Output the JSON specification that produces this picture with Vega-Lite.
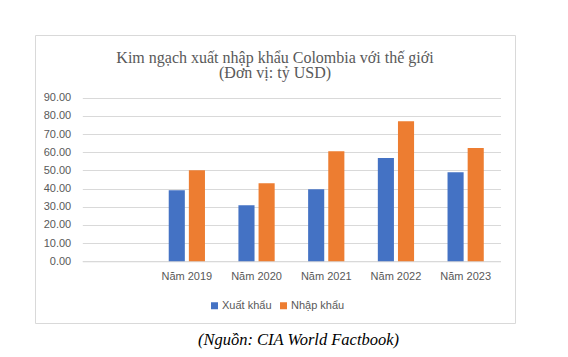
{
  "$schema": "https://vega.github.io/schema/vega-lite/v6.json",
  "width": 480,
  "height": 288,
  "autosize": {"type": "none"},
  "padding": {"left": 35, "top": 35, "right": 53, "bottom": 34},
  "background": "white",
  "config": {
    "view": {"stroke": "#d9d9d9", "strokeWidth": 1},
    "axis": {"labelFont": "Liberation Sans", "labelFontSize": 11, "labelColor": "#595959"},
    "legend": {"labelFont": "Liberation Sans", "labelFontSize": 11, "labelColor": "#595959"}
  },
  "title": {
    "text": ["Kim ngạch xuất nhập khẩu Colombia với thế giới", "(Đơn vị: tỷ USD)"],
    "font": "Liberation Serif",
    "fontSize": 16,
    "fontWeight": "normal",
    "color": "#595959",
    "anchor": "middle",
    "baseline": "top",
    "lineHeight": 15.5,
    "offset": -46
  },
  "data": {
    "values": [
      {"nam": "Năm 2019", "loai": "Xuất khẩu", "giatri": 39.1},
      {"nam": "Năm 2019", "loai": "Nhập khẩu", "giatri": 50.1},
      {"nam": "Năm 2020", "loai": "Xuất khẩu", "giatri": 30.9},
      {"nam": "Năm 2020", "loai": "Nhập khẩu", "giatri": 43.0},
      {"nam": "Năm 2021", "loai": "Xuất khẩu", "giatri": 39.7},
      {"nam": "Năm 2021", "loai": "Nhập khẩu", "giatri": 60.6},
      {"nam": "Năm 2022", "loai": "Xuất khẩu", "giatri": 56.8},
      {"nam": "Năm 2022", "loai": "Nhập khẩu", "giatri": 77.1},
      {"nam": "Năm 2023", "loai": "Xuất khẩu", "giatri": 49.0},
      {"nam": "Năm 2023", "loai": "Nhập khẩu", "giatri": 62.3}
    ]
  },
  "mark": {"type": "bar"},
  "encoding": {
    "x": {
      "field": "nam",
      "type": "nominal",
      "sort": null,
      "scale": {
        "domain": ["", "Năm 2019", "Năm 2020", "Năm 2021", "Năm 2022", "Năm 2023"],
        "range": [47.3, 465.5],
        "paddingInner": 0.48,
        "paddingOuter": 0.24
      },
      "axis": {
        "title": "(Nguồn: CIA World Factbook)",
        "titleFont": "Liberation Serif",
        "titleFontStyle": "italic",
        "titleFontWeight": "normal",
        "titleFontSize": 16.5,
        "titleColor": "#000000",
        "titleX": 263,
        "titleY": 78,
        "titleBaseline": "middle",
        "titleAnchor": "middle",
        "labelAngle": 0,
        "ticks": false,
        "tickSize": 0,
        "labelPadding": 9,
        "domainColor": "#d9d9d9",
        "offset": -61.7
      }
    },
    "xOffset": {
      "field": "loai",
      "type": "nominal",
      "sort": ["Xuất khẩu", "Nhập khẩu"],
      "scale": {"paddingInner": 0.2, "paddingOuter": 0}
    },
    "y": {
      "field": "giatri",
      "type": "quantitative",
      "scale": {"domain": [0, 90], "range": [226.3, 62.8], "nice": false},
      "axis": {
        "title": null,
        "values": [0, 10, 20, 30, 40, 50, 60, 70, 80, 90],
        "format": ".2f",
        "domain": false,
        "ticks": false,
        "tickSize": 0,
        "labelPadding": 0,
        "offset": -35.7,
        "gridColor": "#d9d9d9",
        "gridWidth": 1
      }
    },
    "color": {
      "field": "loai",
      "type": "nominal",
      "sort": ["Xuất khẩu", "Nhập khẩu"],
      "scale": {"domain": ["Xuất khẩu", "Nhập khẩu"], "range": ["#4472C4", "#ED7D31"]},
      "legend": {
        "title": null,
        "orient": "none",
        "direction": "horizontal",
        "legendX": 174,
        "legendY": 265,
        "symbolType": "square",
        "symbolSize": 49,
        "symbolStrokeWidth": 0,
        "labelOffset": 2,
        "columnPadding": 6,
        "padding": 0
      }
    }
  }
}
